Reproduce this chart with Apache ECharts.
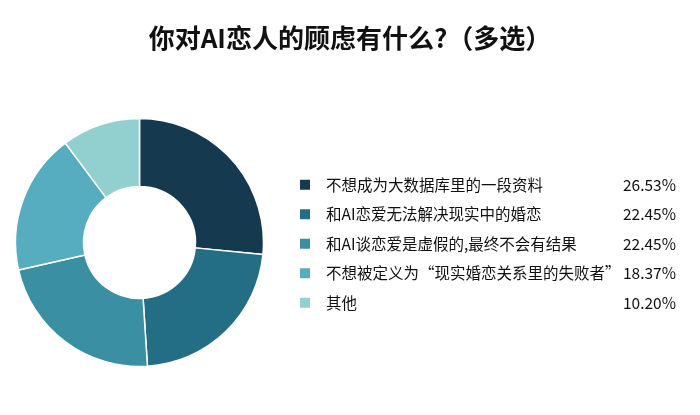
<!DOCTYPE html>
<html>
<head>
<meta charset="utf-8">
<title>你对AI恋人的顾虑有什么?(多选)</title>
<script src="https://cdn.jsdelivr.net/npm/echarts@6/dist/echarts.min.js"></script>
<style>
    html, body { margin: 0; padding: 0; background: #fff; }
    #main { width: 700px; height: 415px; }
</style>
</head>
<body>
<div id="main"></div>
<script>
// 选项及人数（百分比按总数计算）
var categories = [
    '不想成为大数据库里的一段资料',
    '和AI恋爱无法解决现实中的婚恋',
    '和AI谈恋爱是虚假的,最终不会有结果',
    '不想被定义为“现实婚恋关系里的失败者”',
    '其他'
];
var counts = [13, 11, 11, 9, 5];
var colors = ['#15394f', '#246e85', '#3a8fa3', '#56adc0', '#92d0cf'];

var total = counts.reduce(function (a, b) { return a + b; }, 0);
var pieData = categories.map(function (name, i) {
    return { name: name, value: counts[i] };
});
var pctOf = {};
categories.forEach(function (name, i) {
    pctOf[name] = (counts[i] / total * 100).toFixed(2) + '%';
});

var chart = echarts.init(document.getElementById('main'));
chart.setOption({
    backgroundColor: '#fff',
    color: colors,
    title: {
        text: '你对AI恋人的顾虑有什么?（多选）',
        left: 'center',
        top: 20,
        textStyle: {
            fontFamily: 'Noto Sans CJK SC',
            fontSize: 26,
            fontWeight: 'bold',
            color: '#111'
        }
    },
    legend: {
        orient: 'vertical',
        left: 298,
        top: 177,
        padding: 0,
        itemWidth: 12,
        itemHeight: 12,
        itemGap: 14,
        icon: 'rect',
        selectedMode: false,
        formatter: function (name) {
            return '{a|' + name + '}{b|' + pctOf[name] + '}';
        },
        textStyle: {
            fontFamily: 'Noto Sans CJK SC',
            rich: {
                a: {
                    width: 298,
                    fontSize: 15.5,
                    lineHeight: 16,
                    color: '#111',
                    padding: [0, 0, 0, 10]
                },
                b: {
                    width: 52,
                    align: 'right',
                    fontSize: 15.5,
                    lineHeight: 16,
                    color: '#111'
                }
            }
        }
    },
    series: [{
        type: 'pie',
        center: [139.5, 242.5],
        radius: [56, 124],
        startAngle: 90,
        clockwise: true,
        avoidLabelOverlap: false,
        label: { show: false },
        labelLine: { show: false },
        itemStyle: { borderColor: '#fff', borderWidth: 1.5 },
        emphasis: { disabled: true },
        data: pieData
    }]
});
</script>
</body>
</html>
